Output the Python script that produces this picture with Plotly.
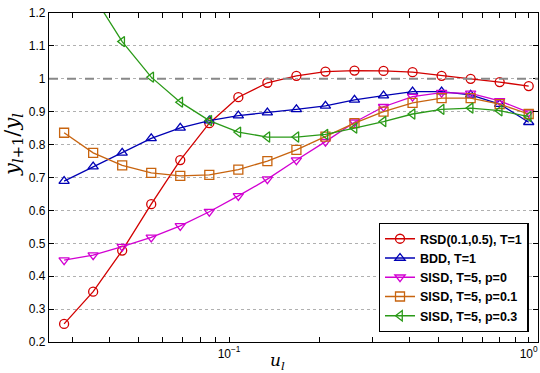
import plotly.graph_objects as go

# x values (u_l), shared by all series
u = [0.028147, 0.035184, 0.043980, 0.054976, 0.068719, 0.085899, 0.107374,
     0.134218, 0.167772, 0.209715, 0.262144, 0.327680, 0.409600, 0.512000,
     0.640000, 0.800000, 1.000000]

rsd = [0.255, 0.353, 0.478, 0.619, 0.753, 0.865, 0.944, 0.988, 1.009, 1.022,
       1.025, 1.024, 1.020, 1.009, 1.000, 0.990, 0.978]
bdd = [0.689, 0.733, 0.775, 0.819, 0.851, 0.873, 0.888, 0.897, 0.907, 0.918,
       0.936, 0.949, 0.961, 0.961, 0.951, 0.923, 0.868]
sisd_p0 = [0.449, 0.464, 0.490, 0.518, 0.553, 0.596, 0.644, 0.695, 0.753, 0.809,
           0.868, 0.915, 0.946, 0.958, 0.956, 0.933, 0.898]
sisd_p01 = [0.836, 0.775, 0.737, 0.714, 0.705, 0.708, 0.724, 0.750, 0.784, 0.824,
            0.865, 0.900, 0.927, 0.941, 0.941, 0.923, 0.893]
sisd_p03 = [1.42, 1.253, 1.113, 1.005, 0.929, 0.873, 0.838, 0.823, 0.823, 0.831,
            0.850, 0.870, 0.893, 0.907, 0.911, 0.903, 0.885]

names = ["RSD(0.1,0.5), T=1", "BDD, T=1", "SISD, T=5, p=0",
         "SISD, T=5, p=0.1", "SISD, T=5, p=0.3"]
series = [rsd, bdd, sisd_p0, sisd_p01, sisd_p03]
colors = ["#d20000", "#0000b4", "#d200d2", "#c8640f", "#2a9a18"]
symbols = ["circle-open", "triangle-up-open", "triangle-down-open",
           "square-open", "triangle-left-open"]

REF_LEVEL = 1.0

x_major = [0.1, 1]
x_minor = [0.03, 0.04, 0.05, 0.06, 0.07, 0.08, 0.09,
           0.2, 0.3, 0.4, 0.5, 0.6, 0.7, 0.8, 0.9]
y_ticks = [0.2, 0.3, 0.4, 0.5, 0.6, 0.7, 0.8, 0.9, 1.0, 1.1, 1.2]
y_labels = ["0.2", "0.3", "0.4", "0.5", "0.6", "0.7", "0.8", "0.9", "1", "1.1", "1.2"]

fig = go.Figure()
for name, ys, c, s in zip(names, series, colors, symbols):
    fig.add_trace(go.Scatter(
        x=u, y=ys, name=name, mode="lines+markers",
        line=dict(color=c, width=1.3),
        marker=dict(symbol=s, size=9, color=c, line=dict(width=1.3, color=c)),
    ))

fig.add_shape(type="line", xref="paper", x0=0, x1=1, yref="y",
              y0=REF_LEVEL, y1=REF_LEVEL,
              line=dict(color="#888888", width=2, dash="dash"), layer="above")

tickvals_x = x_major + x_minor
ticktext_x = ["10<sup>−1</sup>", "10<sup>0</sup>"] + [""] * len(x_minor)

fig.update_layout(
    width=540, height=373,
    margin=dict(l=49, r=2, t=13, b=31),
    paper_bgcolor="white", plot_bgcolor="white",
    font=dict(family="Liberation Sans, Arial, sans-serif", size=12, color="black"),
    showlegend=True,
    legend=dict(
        x=0.981, y=0.031, xanchor="right", yanchor="bottom",
        bgcolor="white", bordercolor="black", borderwidth=1.3,
        font=dict(family="Liberation Sans, Arial, sans-serif", size=12.5,
                  color="black", weight="bold"),
        tracegroupgap=0, itemwidth=30,
    ),
    xaxis=dict(
        type="log", range=[-1.601, 0.031],
        tickvals=tickvals_x, ticktext=ticktext_x,
        ticks="inside", ticklen=5, tickwidth=1, tickcolor="black",
        showline=True, linecolor="black", linewidth=1.2, mirror="ticks",
        showgrid=False, zeroline=False,
        tickfont=dict(size=12),
    ),
    yaxis=dict(
        range=[0.2, 1.2], tickvals=y_ticks, ticktext=y_labels,
        ticks="inside", ticklen=5, tickwidth=1, tickcolor="black",
        showline=True, linecolor="black", linewidth=1.2, mirror="ticks",
        showgrid=True, gridcolor="#b0b0b0", griddash="dot", gridwidth=1,
        zeroline=False, tickfont=dict(size=12),
    ),
    annotations=[
        dict(text="<i>y</i><sub><i>l</i>+1</sub>/<i>y</i><sub><i>l</i></sub>",
             xref="paper", yref="paper", x=-0.075, y=0.6, textangle=-90,
             showarrow=False, xanchor="center", yanchor="middle",
             font=dict(family="DejaVu Serif, serif", size=21)),
        dict(text="<i>u</i><sub><i>l</i></sub>",
             xref="paper", yref="paper", x=0.468, y=-0.058,
             showarrow=False, xanchor="center", yanchor="middle",
             font=dict(family="DejaVu Serif, serif", size=17)),
    ],
)

fig.write_html("out.html")
